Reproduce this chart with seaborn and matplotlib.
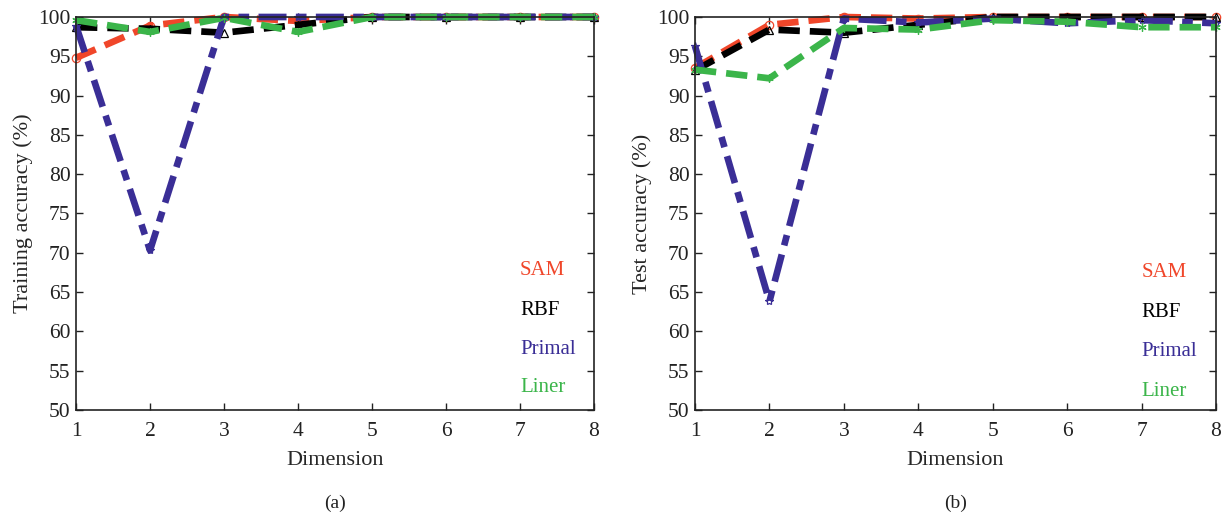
import matplotlib
matplotlib.use("Agg")
import matplotlib.pyplot as plt
import seaborn as sns
import pandas as pd

sns.set_style("white")
plt.rcParams["font.family"] = ["Liberation Serif", "DejaVu Serif"]
plt.rcParams["mathtext.fontset"] = "stix"

dimension = [1, 2, 3, 4, 5, 6, 7, 8]

# Training accuracy (%)
train_sam = [94.8, 98.9, 100.0, 99.5, 100.0, 100.0, 100.0, 100.0]
train_rbf = [98.7, 98.5, 98.0, 99.0, 100.0, 100.0, 100.0, 100.0]
train_primal = [98.9, 70.3, 100.0, 100.0, 100.0, 100.0, 100.0, 100.0]
train_liner = [99.6, 98.1, 99.9, 98.1, 100.0, 100.0, 100.0, 100.0]

# Test accuracy (%)
test_sam = [93.5, 99.0, 100.0, 99.8, 100.0, 100.0, 100.0, 100.0]
test_rbf = [93.2, 98.4, 98.0, 99.0, 100.0, 100.0, 100.0, 100.0]
test_primal = [96.3, 63.8, 99.8, 99.3, 99.8, 99.2, 99.6, 99.2]
test_liner = [93.3, 92.2, 98.6, 98.4, 99.6, 99.4, 98.7, 98.7]

methods = ["SAM", "RBF", "Primal", "Liner"]
colors = {"SAM": "#f0462a", "RBF": "#000000", "Primal": "#3a2e96", "Liner": "#3bb54a"}
dash_styles = {"SAM": (3.2, 1.5), "RBF": (3.2, 1.5), "Primal": (4.2, 1.4, 1.6, 1.4), "Liner": (3.2, 1.5)}
markers = {"SAM": "o", "RBF": "^", "Primal": "*", "Liner": (6, 2, 0)}

panels = [
    ("Training accuracy (%)", "(a)", [train_sam, train_rbf, train_primal, train_liner]),
    ("Test accuracy (%)", "(b)", [test_sam, test_rbf, test_primal, test_liner]),
]

fig = plt.figure(figsize=(12.24, 5.15), dpi=100)
axes = [fig.add_axes([0.0621, 0.204, 0.4232, 0.763]),
        fig.add_axes([0.5678, 0.204, 0.4257, 0.763])]

legend_y = [[0.356, 0.254, 0.155, 0.056], [0.351, 0.249, 0.148, 0.048]]

for k, (ax, (ylabel, tag, series)) in enumerate(zip(axes, panels)):
    for name, vals in zip(methods, series):
        df = pd.DataFrame({"Dimension": dimension, "Accuracy": vals})
        sns.lineplot(data=df, x="Dimension", y="Accuracy", ax=ax,
                     color=colors[name], linewidth=4.8, dashes=False,
                     marker=markers[name], markersize=6,
                     markerfacecolor="none", markeredgecolor=colors[name],
                     markeredgewidth=0.9, clip_on=False)
        line = ax.get_lines()[-1]
        line.set_dashes(dash_styles[name])
        line.set_dash_capstyle("butt")
    ax.set_xlim(1, 8)
    ax.set_ylim(50, 100)
    ax.set_xticks(dimension)
    ax.set_yticks(range(50, 101, 5))
    ax.tick_params(direction="in", length=5, width=1, labelsize=15.5,
                   top=True, right=True, bottom=True, left=True,
                   colors="#222222")
    ax.tick_params(axis="x", pad=9)
    ax.tick_params(axis="y", pad=4)
    for sp in ax.spines.values():
        sp.set_color("#222222")
        sp.set_linewidth(1.2)
    ax.set_xlabel("Dimension", fontsize=16, labelpad=7)
    ax.set_ylabel(ylabel, fontsize=16, labelpad=4)
    for name, yy in zip(methods, legend_y[k]):
        ax.text(0.857, yy, name, transform=ax.transAxes, color=colors[name],
                fontsize=15, ha="left", va="center")
    ax.text(0.5, -0.237, tag, transform=ax.transAxes, fontsize=14,
            ha="center", va="center", color="#222222")

fig.savefig("out.png", dpi=100)
